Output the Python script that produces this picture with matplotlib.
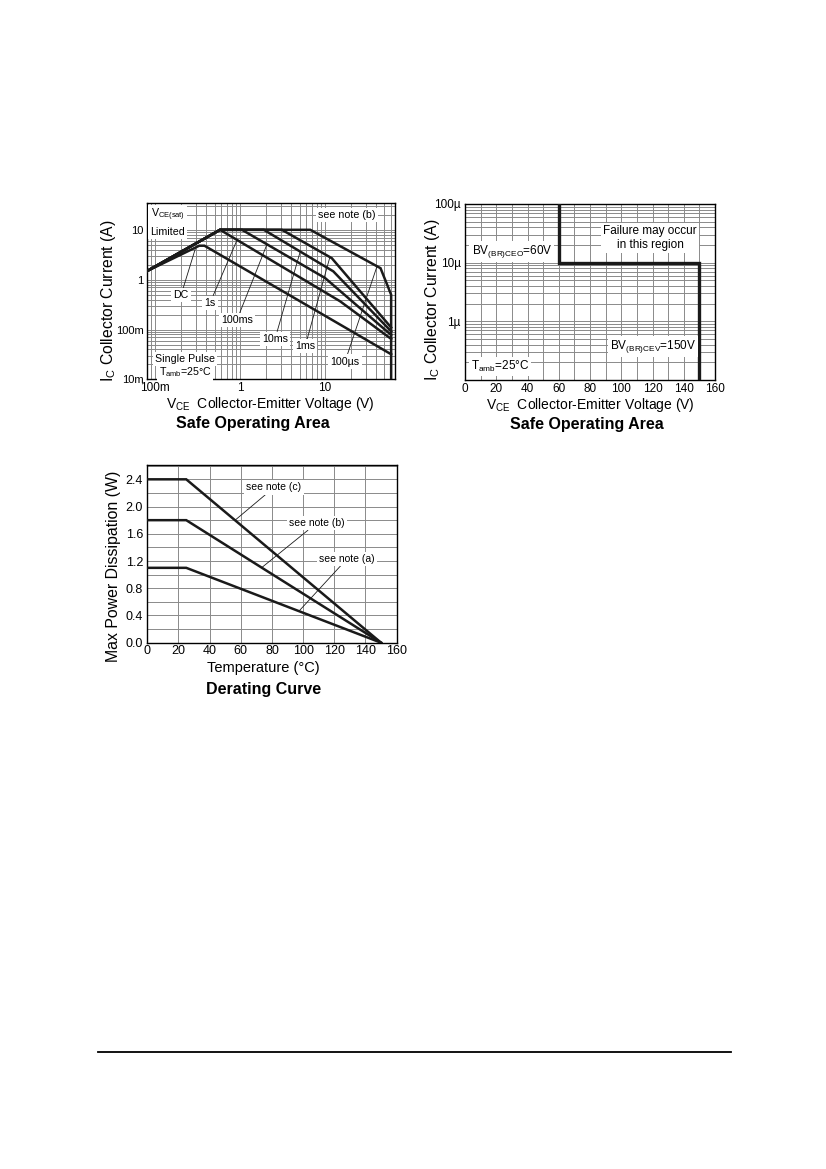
"""
Datasheet page: safe operating area (log and linear) plus derating curve.
"""

import numpy as np
import matplotlib
matplotlib.use("Agg")
import matplotlib.pyplot as plt
from matplotlib.lines import Line2D
from matplotlib.ticker import FixedLocator, LogLocator, MultipleLocator, NullFormatter

plt.rcParams["font.family"] = ["Liberation Sans", "DejaVu Sans"]
plt.rcParams["mathtext.fontset"] = "custom"
plt.rcParams["mathtext.rm"] = "Liberation Sans"
plt.rcParams["mathtext.it"] = "Liberation Sans:italic"
plt.rcParams["mathtext.bf"] = "Liberation Sans:bold"

GRID = "#8a8a8a"
INK = "#1a1a1a"

# ── SOA, log-log (V, A) ───────────────────────────────────────────────────
DC_V = [0.079, 0.33, 0.38, 60]
DC_I = [1.47, 4.8, 4.8, 0.032]
S1_V = [0.079, 0.58, 15, 60]
S1_I = [1.47, 10, 0.37, 0.065]
MS100_V = [0.079, 0.58, 1.05, 10, 60]
MS100_I = [1.47, 10, 10, 1.08, 0.078]
MS10_V = [0.079, 0.58, 1.9, 12.5, 60]
MS10_I = [1.47, 10, 10, 1.47, 0.092]
MS1_V = [0.079, 0.58, 3.1, 12, 60]
MS1_I = [1.47, 10, 10, 2.7, 0.11]
US100_V = [0.079, 0.58, 6.7, 45, 60, 60]
US100_I = [1.47, 10, 10, 1.7, 0.5, 0.01]

SOA_XTICKS = [0.1, 1, 10]
SOA_XLABELS = ["100m", "1", "10"]
SOA_YTICKS = [0.01, 0.1, 1, 10]
SOA_YLABELS = ["10m", "100m", "1", "10"]

# ── SOA, leakage (V, A) ───────────────────────────────────────────────────
BV_V = [60, 60, 150, 150]
BV_I = [1e-4, 1e-5, 1e-5, 1e-7]
BV_YTICKS = [1e-6, 1e-5, 1e-4]
BV_YLABELS = ["1µ", "10µ", "100µ"]

# ── derating (degC, W) ────────────────────────────────────────────────────
TEMP = [0, 25, 150]
PD_A = [1.1, 1.1, 0.0]
PD_B = [1.8, 1.8, 0.0]
PD_C = [2.4, 2.4, 0.0]


def on_curve(xs, ys, x):
    # log-log interpolation along a polyline
    return 10 ** np.interp(np.log10(x), np.log10(xs), np.log10(ys))


def style_axes(ax, tick_size=8):
    for s in ax.spines.values():
        s.set_linewidth(1.0)
        s.set_color("black")
    ax.tick_params(which="both", length=0, pad=3, labelsize=tick_size)
    ax.tick_params(axis="x", pad=2)
    ax.grid(which="both", color=GRID, linewidth=0.7)
    ax.set_axisbelow(True)


def box_text(ax, x, y, s, size=7.7, ha="center", transform=None, **kw):
    ax.text(x, y, s, ha=ha, va="center", fontsize=size, zorder=6,
            transform=transform or ax.transAxes,
            bbox=dict(fc="white", ec="none", pad=1.5), **kw)


def leader(ax, s, xy, xytext, size=7.7):
    ax.annotate(s, xy=xy, xytext=xytext, ha="center", va="center",
                fontsize=size, zorder=6,
                bbox=dict(fc="white", ec="none", pad=1.5),
                arrowprops=dict(arrowstyle="-", lw=0.6, color=INK,
                                shrinkA=0, shrinkB=0))


fig = plt.figure(figsize=(8.26, 11.69), dpi=100)

# ── chart 1: safe operating area (log) ────────────────────────────────────
ax1 = fig.add_axes([0.1774, 0.6754, 0.3008, 0.1507])
ax1.set_xscale("log")
ax1.set_yscale("log")
ax1.set_xlim(0.079, 66.6)
ax1.set_ylim(0.01, 34)
ax1.xaxis.set_major_locator(FixedLocator(SOA_XTICKS))
ax1.set_xticklabels(SOA_XLABELS)
ax1.yaxis.set_major_locator(FixedLocator(SOA_YTICKS))
ax1.set_yticklabels(SOA_YLABELS)
for axis in (ax1.xaxis, ax1.yaxis):
    axis.set_minor_locator(LogLocator(base=10, subs=np.arange(2, 10)))
    axis.set_minor_formatter(NullFormatter())
style_axes(ax1, tick_size=8.5)
ax1.tick_params(axis="y", pad=2, labelsize=8)

soa = [(DC_V, DC_I), (S1_V, S1_I), (MS100_V, MS100_I),
       (MS10_V, MS10_I), (MS1_V, MS1_I), (US100_V, US100_I)]
for v, i in soa:
    ax1.plot(v, i, color=INK, lw=1.8, solid_joinstyle="miter", zorder=4)

# curve labels with leader lines
leader(ax1, "DC", (0.3, on_curve(DC_V, DC_I, 0.3)), (0.202, 0.50))
leader(ax1, "1s", (0.92, on_curve(S1_V, S1_I, 0.92)), (0.443, 0.347))
leader(ax1, "100ms", (2.07, on_curve(MS100_V, MS100_I, 2.07)), (0.912, 0.153))
leader(ax1, "10ms", (5.1, on_curve(MS10_V, MS10_I, 5.1)), (2.58, 0.066))
leader(ax1, "1ms", (11.4, on_curve(MS1_V, MS1_I, 11.4)), (5.83, 0.0464))
leader(ax1, "100µs", (40.9, on_curve(US100_V, US100_I, 40.9)), (17.2, 0.0229))

box_text(ax1, 0.016, 0.934, r"V$_{\mathrm{CE(sat)}}$", ha="left")
box_text(ax1, 0.016, 0.837, "Limited", ha="left")
box_text(ax1, 0.807, 0.934, "see note (b)")
box_text(ax1, 0.155, 0.116, "Single Pulse")
box_text(ax1, 0.155, 0.039, r"T$_{\mathrm{amb}}$=25°C")

ax1.set_ylabel(r"I$_{\mathrm{C}}$ Collector Current (A)", fontsize=11.3)
ax1.yaxis.set_label_coords(-0.115, 0.45)
ax1.set_xlabel(r"V$_{\mathrm{CE}}$  Collector-Emitter Voltage (V)", fontsize=10)
ax1.xaxis.set_label_coords(0.5, -0.088)
ax1.text(0.426, -0.25, "Safe Operating Area", transform=ax1.transAxes,
         ha="center", va="center", fontsize=11.5, fontweight="bold")

# ── chart 2: safe operating area (leakage) ────────────────────────────────
ax2 = fig.add_axes([0.5630, 0.6749, 0.3027, 0.1506])
ax2.set_yscale("log")
ax2.set_xlim(0, 160)
ax2.set_ylim(1e-7, 1e-4)
ax2.xaxis.set_major_locator(MultipleLocator(20))
ax2.xaxis.set_minor_locator(MultipleLocator(10))
ax2.yaxis.set_major_locator(FixedLocator(BV_YTICKS))
ax2.set_yticklabels(BV_YLABELS)
ax2.yaxis.set_minor_locator(LogLocator(base=10, subs=np.arange(2, 10)))
ax2.yaxis.set_minor_formatter(NullFormatter())
style_axes(ax2, tick_size=8.5)

ax2.plot(BV_V, BV_I, color=INK, lw=2.4, solid_joinstyle="miter", zorder=4)

box_text(ax2, 0.74, 0.807, "Failure may occur\nin this region", size=8.5)
box_text(ax2, 0.187, 0.729, r"BV$_{\mathrm{(BR)CEO}}$=60V", size=8.5)
box_text(ax2, 0.752, 0.189, r"BV$_{\mathrm{(BR)CEV}}$=150V", size=8.5)
box_text(ax2, 0.14, 0.076, r"T$_{\mathrm{amb}}$=25°C", size=8.5)

ax2.set_ylabel(r"I$_{\mathrm{C}}$ Collector Current (A)", fontsize=11.3)
ax2.yaxis.set_label_coords(-0.092, 0.457)
ax2.set_xlabel(r"V$_{\mathrm{CE}}$  Collector-Emitter Voltage (V)", fontsize=10)
ax2.xaxis.set_label_coords(0.5, -0.088)
ax2.text(0.487, -0.25, "Safe Operating Area", transform=ax2.transAxes,
         ha="center", va="center", fontsize=11.5, fontweight="bold")

# ── chart 3: derating curve ───────────────────────────────────────────────
ax3 = fig.add_axes([0.1783, 0.4502, 0.3019, 0.1520])
ax3.set_xlim(0, 160)
ax3.set_ylim(0, 2.61)
ax3.xaxis.set_major_locator(MultipleLocator(20))
ax3.yaxis.set_major_locator(MultipleLocator(0.4))
ax3.yaxis.set_minor_locator(MultipleLocator(0.2))
ax3.yaxis.set_major_formatter("{x:.1f}")
style_axes(ax3, tick_size=9)

for p in (PD_A, PD_B, PD_C):
    ax3.plot(TEMP, p, color=INK, lw=1.8, solid_joinstyle="miter", zorder=4)


def on_line(ys, t):
    return np.interp(t, TEMP, ys)


leader(ax3, "see note (c)", (56.3, on_line(PD_C, 56.3)), (81.3, 2.28), size=7.5)
leader(ax3, "see note (b)", (73.4, on_line(PD_B, 73.4)), (108.7, 1.756), size=7.5)
leader(ax3, "see note (a)", (97.3, on_line(PD_A, 97.3)), (128.3, 1.235), size=7.5)

ax3.set_ylabel("Max Power Dissipation (W)", fontsize=11.4)
ax3.yaxis.set_label_coords(-0.106, 0.43)
ax3.set_xlabel("Temperature (°C)", fontsize=10.5, va="center")
ax3.xaxis.set_label_coords(0.465, -0.14)
ax3.text(0.465, -0.263, "Derating Curve", transform=ax3.transAxes,
         ha="center", va="center", fontsize=11.5, fontweight="bold")

# page rule at the bottom
fig.add_artist(Line2D([98 / 826, 731 / 826], [1 - 1052 / 1169] * 2,
                      color="black", lw=1.3))

fig.savefig("out.png", dpi=100)
